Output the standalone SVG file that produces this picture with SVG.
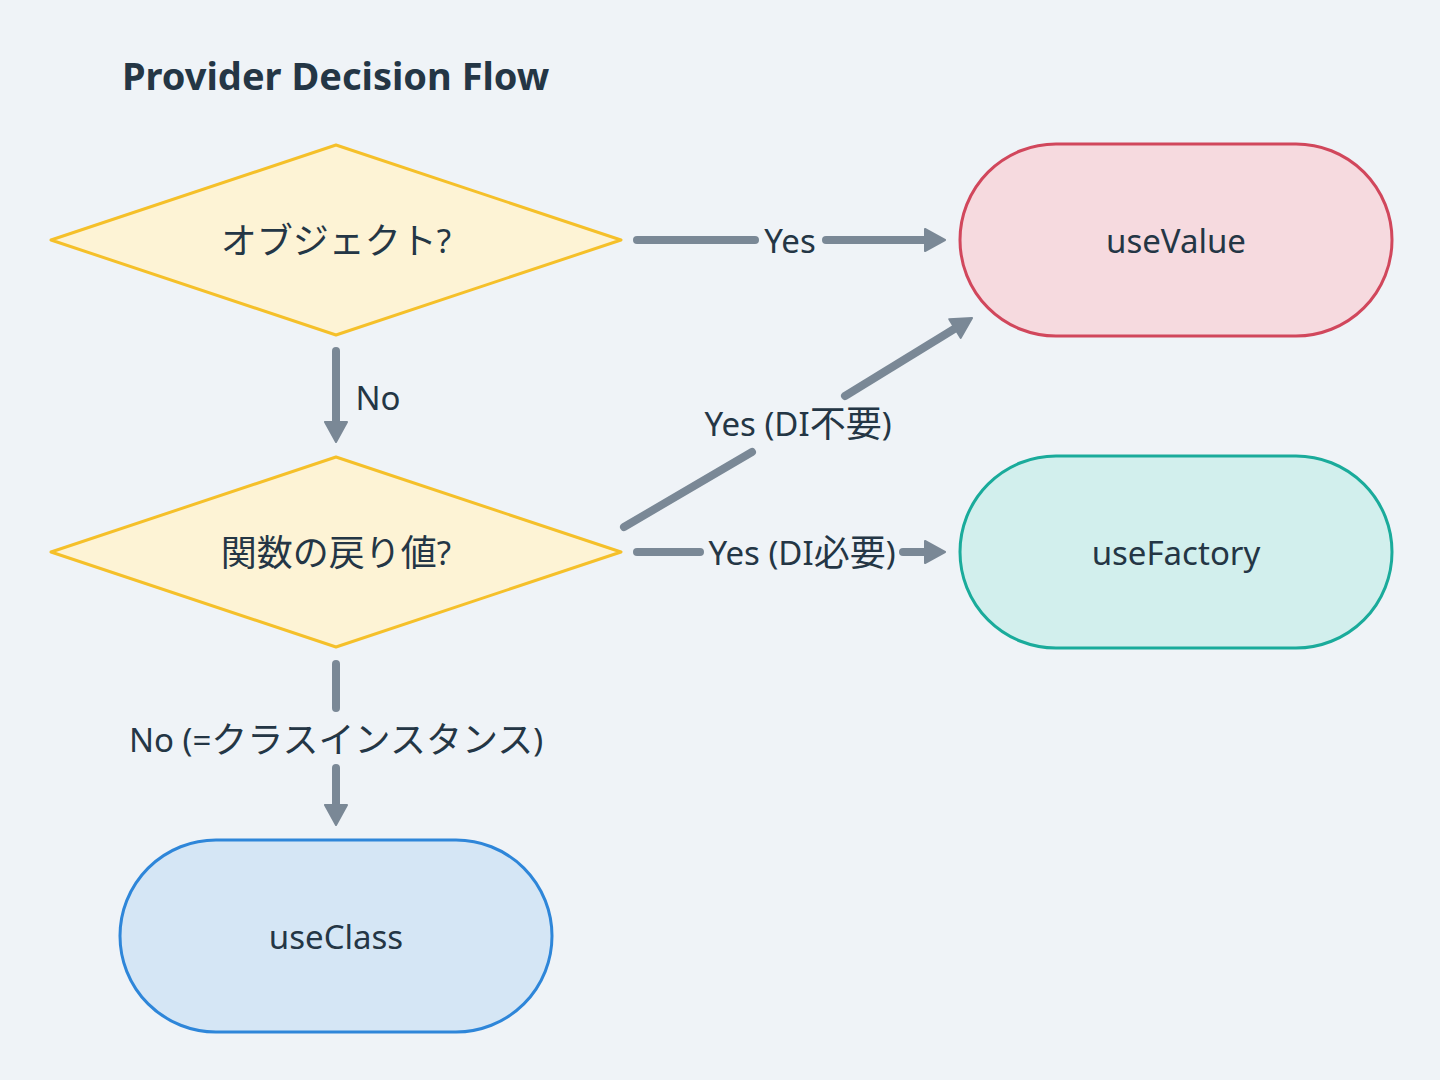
<svg xmlns="http://www.w3.org/2000/svg" width="1440" height="1080" viewBox="0 0 1440 1080">
<defs>
<style>
.bg{fill:#eff3f7}
.dia{fill:#fdf3d5;stroke:#f5c02a;stroke-width:3;stroke-linejoin:round}
.t{font-family:"Noto Sans","Noto Sans CJK JP",sans-serif;font-size:33px;fill:#243645;text-anchor:middle;dominant-baseline:central}
.j{font-size:36px}
.title{font-family:"Noto Sans","Noto Sans CJK JP",sans-serif;font-size:38px;font-weight:bold;fill:#243645}
.c{fill:none;stroke:#7a8896;stroke-width:8;stroke-linecap:round}
</style>
<marker id="ah" markerUnits="userSpaceOnUse" markerWidth="24" markerHeight="24" viewBox="0 0 24 24" refX="2" refY="12" orient="auto">
<path d="M2,1 L22,12 L2,23 Z" fill="#7a8896" stroke="#7a8896" stroke-width="2" stroke-linejoin="round"/>
</marker>
</defs>
<rect class="bg" x="0" y="0" width="1440" height="1080"/>
<text class="title" x="122" y="90">Provider Decision Flow</text>

<g id="connectors">
<path class="c" d="M637,240 L755,240"/>
<path class="c" d="M826,240 L925,240" marker-end="url(#ah)"/>
<text class="t" x="790" y="240">Yes</text>
<path class="c" d="M336,351 L336,422" marker-end="url(#ah)"/>
<text class="t" x="378" y="397">No</text>
<path class="c" d="M624,527 L752,452"/>
<path class="c" d="M845,396 L955,328.5" marker-end="url(#ah)"/>
<text class="t" x="798" y="423">Yes (DI<tspan class="j">不要</tspan>)</text>
<path class="c" d="M637,552 L700,552"/>
<path class="c" d="M903,552 L925,552" marker-end="url(#ah)"/>
<text class="t" x="802" y="552">Yes (DI<tspan class="j">必要</tspan>)</text>
<path class="c" d="M336,664 L336,708"/>
<path class="c" d="M336,768 L336,805" marker-end="url(#ah)"/>
<text class="t" x="336" y="739">No (=<tspan class="j">クラスインスタンス</tspan>)</text>
</g>

<g id="q1">
<polygon class="dia" points="51,240 336,145 621,240 336,335"/>
<text class="t" x="336" y="240"><tspan class="j">オブジェクト</tspan>?</text>
</g>
<g id="q2">
<polygon class="dia" points="51,552 336,457 621,552 336,647"/>
<text class="t" x="336" y="552"><tspan class="j">関数の戻り値</tspan>?</text>
</g>
<g id="useValue">
<rect x="960" y="144" width="432" height="192" rx="96" fill="#f6dadf" stroke="#d1475c" stroke-width="3"/>
<text class="t" x="1176" y="240">useValue</text>
</g>
<g id="useFactory">
<rect x="960" y="456" width="432" height="192" rx="96" fill="#d2efed" stroke="#1aab9b" stroke-width="3"/>
<text class="t" x="1176" y="552">useFactory</text>
</g>
<g id="useClass">
<rect x="120" y="840" width="432" height="192" rx="96" fill="#d5e6f5" stroke="#2e86d9" stroke-width="3"/>
<text class="t" x="336" y="936">useClass</text>
</g>
</svg>
